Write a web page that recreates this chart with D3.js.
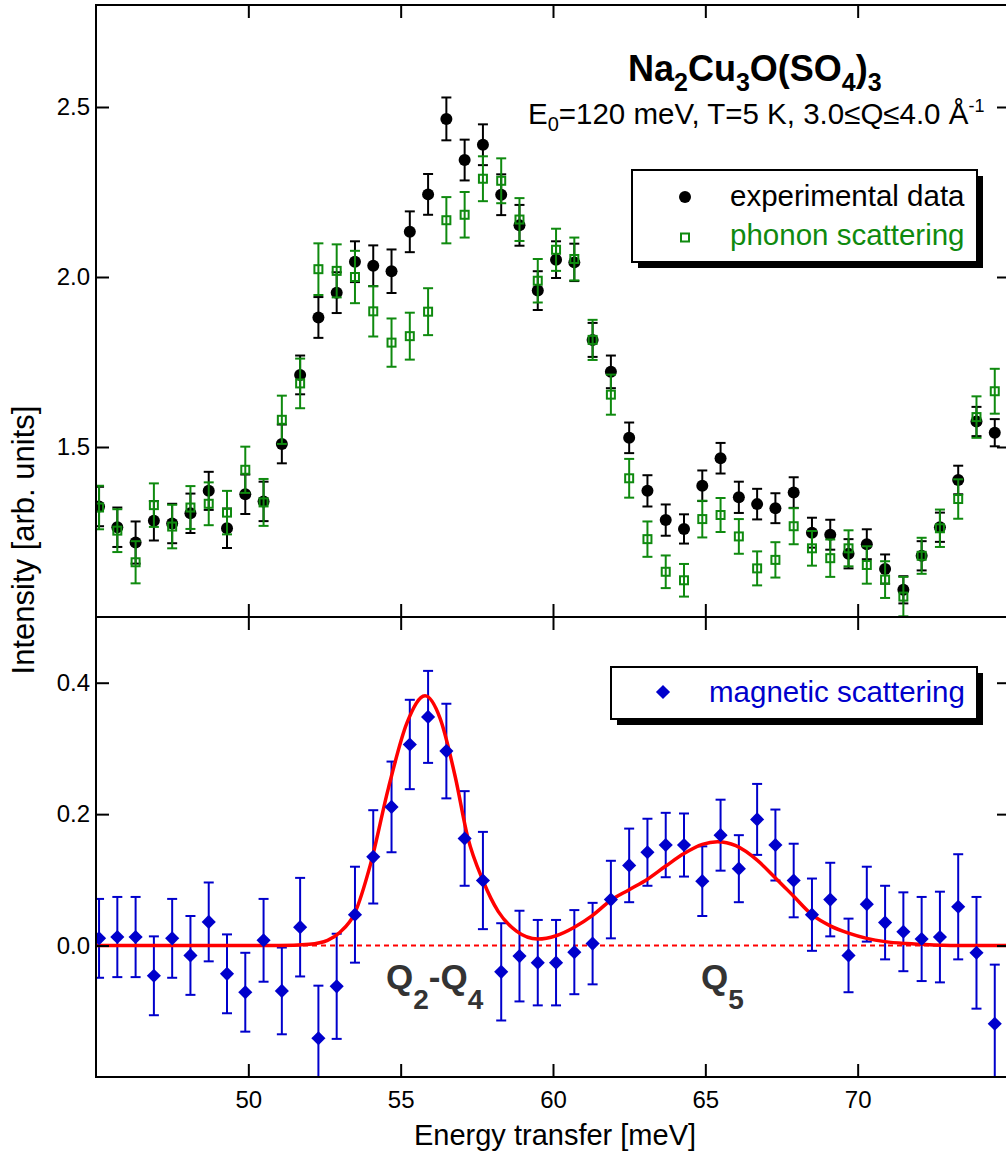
<!DOCTYPE html>
<html>
<head>
<meta charset="utf-8">
<script src="https://cdn.jsdelivr.net/npm/d3@7"></script>
<style>
  body { margin: 0; background: #fff; }
  svg { display: block; }
  text { font-family: "Liberation Sans", Arial, Helvetica, sans-serif; }
</style>
</head>
<body>
<div id="chart"></div>
<script>
// Energy transfer grid (meV), shared by all three series
const energy = [45.1, 45.7, 46.3, 46.9, 47.5, 48.1, 48.7, 49.3, 49.9, 50.5,
    51.1, 51.7, 52.3, 52.9, 53.5, 54.1, 54.7, 55.3, 55.9, 56.5,
    57.1, 57.7, 58.3, 58.9, 59.5, 60.1, 60.7, 61.3, 61.9, 62.5,
    63.1, 63.7, 64.3, 64.9, 65.5, 66.1, 66.7, 67.3, 67.9, 68.5,
    69.1, 69.7, 70.3, 70.9, 71.5, 72.1, 72.7, 73.3, 73.9, 74.5];

// experimental data (black circles)
const expData = [1.325, 1.264, 1.219, 1.283, 1.275, 1.305, 1.371, 1.261, 1.361, 1.340,
    1.509, 1.712, 1.881, 1.954, 2.045, 2.033, 2.017, 2.133, 2.243, 2.465,
    2.344, 2.389, 2.242, 2.152, 1.960, 2.051, 2.043, 1.815, 1.721, 1.527,
    1.371, 1.285, 1.259, 1.386, 1.467, 1.352, 1.332, 1.320, 1.366, 1.248,
    1.242, 1.186, 1.214, 1.141, 1.080, 1.180, 1.264, 1.403, 1.575, 1.542];
const expErr = [0.058, 0.058, 0.062, 0.058, 0.058, 0.058, 0.056, 0.058, 0.058, 0.058,
    0.057, 0.057, 0.060, 0.060, 0.060, 0.060, 0.064, 0.060, 0.060, 0.063,
    0.060, 0.060, 0.060, 0.060, 0.057, 0.054, 0.055, 0.050, 0.048, 0.045,
    0.046, 0.046, 0.043, 0.045, 0.045, 0.046, 0.045, 0.044, 0.045, 0.044,
    0.044, 0.043, 0.044, 0.043, 0.040, 0.043, 0.043, 0.042, 0.043, 0.040];

// phonon scattering (green open squares)
const phonon = [1.322, 1.254, 1.161, 1.329, 1.266, 1.322, 1.333, 1.307, 1.433, 1.337,
    1.580, 1.687, 2.023, 2.018, 2.000, 1.899, 1.807, 1.826, 1.898, 2.167,
    2.183, 2.289, 2.283, 2.169, 1.989, 2.080, 2.053, 1.815, 1.654, 1.408,
    1.229, 1.133, 1.108, 1.288, 1.300, 1.237, 1.143, 1.168, 1.267, 1.202,
    1.173, 1.202, 1.153, 1.110, 1.060, 1.180, 1.261, 1.347, 1.588, 1.664];
const phononErr = [0.064, 0.063, 0.062, 0.064, 0.064, 0.063, 0.063, 0.064, 0.068, 0.069,
    0.071, 0.073, 0.076, 0.078, 0.077, 0.074, 0.071, 0.069, 0.069, 0.068,
    0.067, 0.066, 0.066, 0.063, 0.064, 0.062, 0.063, 0.059, 0.059, 0.057,
    0.052, 0.048, 0.048, 0.054, 0.050, 0.051, 0.050, 0.052, 0.053, 0.051,
    0.055, 0.053, 0.055, 0.054, 0.058, 0.053, 0.055, 0.058, 0.061, 0.066];

// magnetic scattering (blue diamonds)
const magnetic = [0.011, 0.013, 0.013, -0.046, 0.011, -0.015, 0.036, -0.043, -0.071, 0.008,
    -0.069, 0.028, -0.141, -0.062, 0.047, 0.135, 0.211, 0.306, 0.348, 0.296,
    0.163, 0.099, -0.040, -0.016, -0.026, -0.026, -0.010, 0.003, 0.070, 0.122,
    0.142, 0.153, 0.153, 0.098, 0.168, 0.117, 0.192, 0.153, 0.099, 0.047,
    0.070, -0.015, 0.063, 0.035, 0.021, 0.010, 0.013, 0.059, -0.011, -0.119];
const magneticErr = [0.060, 0.061, 0.061, 0.060, 0.060, 0.060, 0.060, 0.060, 0.060, 0.063,
    0.066, 0.075, 0.080, 0.080, 0.073, 0.071, 0.069, 0.068, 0.070, 0.072,
    0.072, 0.074, 0.074, 0.069, 0.065, 0.065, 0.064, 0.062, 0.059, 0.056,
    0.051, 0.049, 0.048, 0.053, 0.054, 0.051, 0.054, 0.054, 0.056, 0.055,
    0.056, 0.056, 0.057, 0.056, 0.060, 0.064, 0.069, 0.080, 0.085, 0.090];

// red fit curve
const fitE = [45, 51, 52, 52.6, 53.0, 53.5, 54.0, 54.6, 55.2, 55.8,
    56.3, 56.8, 57.2, 57.7, 58.2, 58.8, 59.5, 60.1, 60.7, 61.3,
    61.9, 62.5, 63.1, 63.7, 64.3, 64.9, 65.4, 66.0, 66.7, 67.3,
    67.9, 68.5, 69.1, 69.7, 70.3, 70.9, 71.6, 72.5, 73.5, 75];
const fitI = [0, 0, 0.002, 0.008, 0.020, 0.050, 0.122, 0.240, 0.338, 0.380,
    0.345, 0.255, 0.165, 0.099, 0.052, 0.022, 0.010, 0.015, 0.028, 0.046,
    0.069, 0.085, 0.101, 0.121, 0.140, 0.154, 0.158, 0.152, 0.130, 0.103,
    0.075, 0.047, 0.030, 0.019, 0.011, 0.006, 0.003, 0.001, 0, 0];

const xTicks = [50, 55, 60, 65, 70];
const topTicks = [1.5, 2.0, 2.5];
const botTicks = [0.0, 0.2, 0.4];

const GREEN = "#0f8a0f", BLUE = "#0000cc", RED = "#ff0000";

const width = 1006, height = 1155;
const svg = d3.select("#chart").append("svg")
    .attr("width", width)
    .attr("height", height);

const x = d3.scaleLinear().domain([45, 75]).range([96, 1010]);
const yTop = d3.scaleLinear().domain([1.0, 2.8]).range([617, 5]);
const yBot = d3.scaleLinear().domain([-0.2, 0.5]).range([1077, 617]);

const defs = svg.append("defs");
defs.append("clipPath").attr("id", "clipTop").append("rect")
    .attr("x", 96).attr("y", 5).attr("width", 914).attr("height", 612);
defs.append("clipPath").attr("id", "clipBot").append("rect")
    .attr("x", 96).attr("y", 617).attr("width", 914).attr("height", 460);

// error bars with caps
function errorBars(g, ys, es, y, color) {
    const grp = g.append("g").attr("stroke", color).attr("stroke-width", 2);
    energy.forEach((e, i) => {
        const cx = x(e), hi = y(ys[i] + es[i]), lo = y(ys[i] - es[i]);
        grp.append("line").attr("x1", cx).attr("x2", cx).attr("y1", hi).attr("y2", lo);
        grp.append("line").attr("x1", cx - 5).attr("x2", cx + 5).attr("y1", hi).attr("y2", hi);
        grp.append("line").attr("x1", cx - 5).attr("x2", cx + 5).attr("y1", lo).attr("y2", lo);
    });
}

// ---- top panel ----
const gTop = svg.append("g").attr("clip-path", "url(#clipTop)");
errorBars(gTop, expData, expErr, yTop, "#000");
gTop.append("g").selectAll("circle")
    .data(energy)
    .join("circle")
    .attr("cx", d => x(d))
    .attr("cy", (d, i) => yTop(expData[i]))
    .attr("r", 6)
    .attr("fill", "#000");
errorBars(gTop, phonon, phononErr, yTop, GREEN);
gTop.append("g").selectAll("rect")
    .data(energy)
    .join("rect")
    .attr("x", d => x(d) - 4)
    .attr("y", (d, i) => yTop(phonon[i]) - 4)
    .attr("width", 8)
    .attr("height", 8)
    .attr("fill", "none")
    .attr("stroke", GREEN)
    .attr("stroke-width", 2);

// ---- bottom panel ----
const gBot = svg.append("g").attr("clip-path", "url(#clipBot)");
gBot.append("line")
    .attr("x1", x(45)).attr("x2", x(75))
    .attr("y1", yBot(0)).attr("y2", yBot(0))
    .attr("stroke", RED).attr("stroke-width", 2).attr("stroke-dasharray", "5,4");
errorBars(gBot, magnetic, magneticErr, yBot, BLUE);
gBot.append("path")
    .datum(fitE)
    .attr("d", d3.line().x(d => x(d)).y((d, i) => yBot(fitI[i])).curve(d3.curveMonotoneX))
    .attr("fill", "none")
    .attr("stroke", RED)
    .attr("stroke-width", 3.5);
const diamond = d3.symbol().type(d3.symbolSquare).size(100);
gBot.append("g").selectAll("path")
    .data(energy)
    .join("path")
    .attr("d", diamond)
    .attr("transform", (d, i) => `translate(${x(d)},${yBot(magnetic[i])}) rotate(45)`)
    .attr("fill", BLUE);

// ---- axes (ticks inside on all four sides) ----
function styleAxis(g) {
    g.select(".domain").remove();
    g.selectAll(".tick line").attr("stroke", "#000").attr("stroke-width", 2);
    g.selectAll(".tick text").attr("font-size", 24).attr("fill", "#000")
        .attr("font-family", "'Liberation Sans', Arial, sans-serif");
}

svg.append("g").attr("transform", "translate(96,0)")
    .call(d3.axisLeft(yTop).tickValues(topTicks).tickSize(-13).tickPadding(6).tickFormat(d3.format(".1f")))
    .call(styleAxis);
svg.append("g").attr("transform", "translate(1010,0)")
    .call(d3.axisRight(yTop).tickValues(topTicks).tickSize(-13).tickFormat(""))
    .call(styleAxis);
svg.append("g").attr("transform", "translate(96,0)")
    .call(d3.axisLeft(yBot).tickValues(botTicks).tickSize(-13).tickPadding(6).tickFormat(d3.format(".1f")))
    .call(styleAxis);
svg.append("g").attr("transform", "translate(1010,0)")
    .call(d3.axisRight(yBot).tickValues(botTicks).tickSize(-13).tickFormat(""))
    .call(styleAxis);

svg.append("g").attr("transform", "translate(0,5)")
    .call(d3.axisTop(x).tickValues(xTicks).tickSize(-13).tickFormat(""))
    .call(styleAxis);
svg.append("g").attr("transform", "translate(0,617)")
    .call(d3.axisBottom(x).tickValues(xTicks).tickSize(-13).tickFormat(""))
    .call(styleAxis);
svg.append("g").attr("transform", "translate(0,617)")
    .call(d3.axisTop(x).tickValues(xTicks).tickSize(-13).tickFormat(""))
    .call(styleAxis);
svg.append("g").attr("transform", "translate(0,1077)")
    .call(d3.axisBottom(x).tickValues(xTicks).tickSize(-13).tickPadding(14))
    .call(styleAxis);

// frames
[[5, 617], [617, 1077]].forEach(([t, b]) => {
    svg.append("rect")
        .attr("x", 96).attr("y", t)
        .attr("width", 914).attr("height", b - t)
        .attr("fill", "none").attr("stroke", "#000").attr("stroke-width", 2);
});

// axis titles
svg.append("text")
    .attr("x", 555).attr("y", 1145)
    .attr("text-anchor", "middle").attr("font-size", 29)
    .text("Energy transfer [meV]");
svg.append("text")
    .attr("transform", "translate(34,540) rotate(-90)")
    .attr("text-anchor", "middle").attr("font-size", 31)
    .text("Intensity [arb. units]");

// title and conditions
const title = svg.append("text")
    .attr("x", 628).attr("y", 81)
    .attr("font-size", 36).attr("font-weight", "bold");
[["Na", false], ["2", true], ["Cu", false], ["3", true], ["O(SO", false], ["4", true], [")", false], ["3", true]]
    .forEach(([t, sub], i) => {
        title.append("tspan")
            .attr("font-size", sub ? 25 : 36)
            .attr("dy", i === 0 ? 0 : (sub ? 10 : -10))
            .text(t);
    });

const cond = svg.append("text")
    .attr("x", 528).attr("y", 124)
    .attr("font-size", 29.5);
cond.append("tspan").text("E");
cond.append("tspan").attr("font-size", 20).attr("dy", 7).text("0");
cond.append("tspan").attr("dy", -7).text("=120 meV, T=5 K, 3.0\u2264Q\u22644.0 \u00c5");
cond.append("tspan").attr("font-size", 18).attr("dy", -12).text("-1");

// peak labels
function peakLabel(x0, parts) {
    const t = svg.append("text")
        .attr("x", x0).attr("y", 989)
        .attr("font-size", 35).attr("font-weight", "bold").attr("fill", "#333");
    let shift = 0;
    parts.forEach(([s, sub]) => {
        const dy = (sub ? 20 : 0) - shift;
        shift = sub ? 20 : 0;
        t.append("tspan").attr("font-size", sub ? 28 : 35).attr("dy", dy).text(s);
    });
}
peakLabel(386, [["Q", false], ["2", true], ["-Q", false], ["4", true]]);
peakLabel(701, [["Q", false], ["5", true]]);

// legends with drop shadow
function legendBox(x0, y0, w, h) {
    svg.append("rect").attr("x", x0 + 6).attr("y", y0 + 6)
        .attr("width", w).attr("height", h).attr("fill", "#000");
    svg.append("rect").attr("x", x0).attr("y", y0)
        .attr("width", w).attr("height", h)
        .attr("fill", "#fff").attr("stroke", "#000").attr("stroke-width", 2);
}
legendBox(632, 170, 345, 92);
svg.append("circle").attr("cx", 685).attr("cy", 197).attr("r", 6).attr("fill", "#000");
svg.append("text").attr("x", 730).attr("y", 206).attr("font-size", 29.5).text("experimental data");
svg.append("rect").attr("x", 681).attr("y", 233.5).attr("width", 8).attr("height", 8)
    .attr("fill", "none").attr("stroke", GREEN).attr("stroke-width", 2);
svg.append("text").attr("x", 730).attr("y", 245).attr("font-size", 29.5).attr("fill", GREEN)
    .text("phonon scattering");

legendBox(611, 667, 366, 52);
svg.append("path").attr("d", diamond)
    .attr("transform", "translate(663,692) rotate(45)").attr("fill", BLUE);
svg.append("text").attr("x", 709).attr("y", 702).attr("font-size", 29.5).attr("fill", BLUE)
    .text("magnetic scattering");
</script>
</body>
</html>
